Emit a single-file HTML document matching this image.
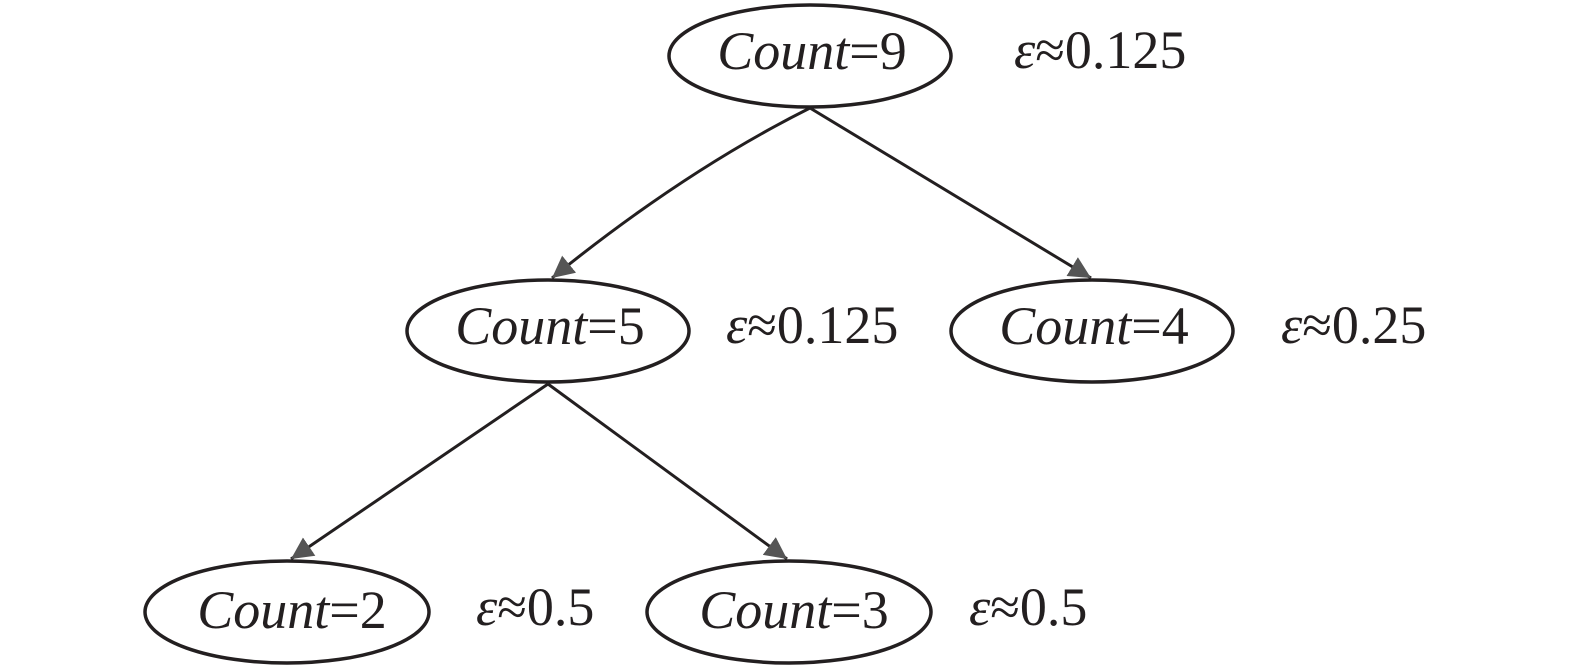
<!DOCTYPE html>
<html><head><meta charset="utf-8"><style>
html,body{margin:0;padding:0;background:#fff;}
svg{display:block;}
text{font-family:"Liberation Serif","Times New Roman","DejaVu Serif",serif;font-size:54px;fill:#231f20;}
.i{font-style:italic;}
</style></head><body>
<svg width="1575" height="669" viewBox="0 0 1575 669">
<defs><marker id="a" viewBox="0 0 10 10" refX="10" refY="5" markerWidth="22" markerHeight="22" markerUnits="userSpaceOnUse" orient="auto"><path d="M0,0 L10,5 L0,10 z" fill="#555"/></marker></defs>
<g transform="translate(4,1)">
<g fill="none" stroke="#231f20" stroke-width="3.5">
<ellipse cx="806" cy="55" rx="141" ry="51"/>
<ellipse cx="544" cy="330" rx="141" ry="51"/>
<ellipse cx="1088" cy="330" rx="141" ry="51"/>
<ellipse cx="283" cy="611" rx="142" ry="51"/>
<ellipse cx="785" cy="611" rx="142" ry="51"/>
</g>
<g fill="none" stroke="#231f20" stroke-width="3">
<path d="M806,107 Q680,170 548,277" marker-end="url(#a)"/>
<path d="M806,107 L1087,277" marker-end="url(#a)"/>
<path d="M544,383 L287,558" marker-end="url(#a)"/>
<path d="M544,383 L783,558" marker-end="url(#a)"/>
</g>
<text x="808" y="68" text-anchor="middle"><tspan class="i">Count</tspan>=9</text>
<text x="546" y="343" text-anchor="middle"><tspan class="i">Count</tspan>=5</text>
<text x="1090" y="343" text-anchor="middle"><tspan class="i">Count</tspan>=4</text>
<text x="288" y="627" text-anchor="middle"><tspan class="i">Count</tspan>=2</text>
<text x="790" y="627" text-anchor="middle"><tspan class="i">Count</tspan>=3</text>
<text x="1010" y="67"><tspan class="i">ε</tspan>≈0.125</text>
<text x="722" y="342"><tspan class="i">ε</tspan>≈0.125</text>
<text x="1277" y="342"><tspan class="i">ε</tspan>≈0.25</text>
<text x="472" y="624"><tspan class="i">ε</tspan>≈0.5</text>
<text x="965" y="624"><tspan class="i">ε</tspan>≈0.5</text>
</g>
</svg>
</body></html>
